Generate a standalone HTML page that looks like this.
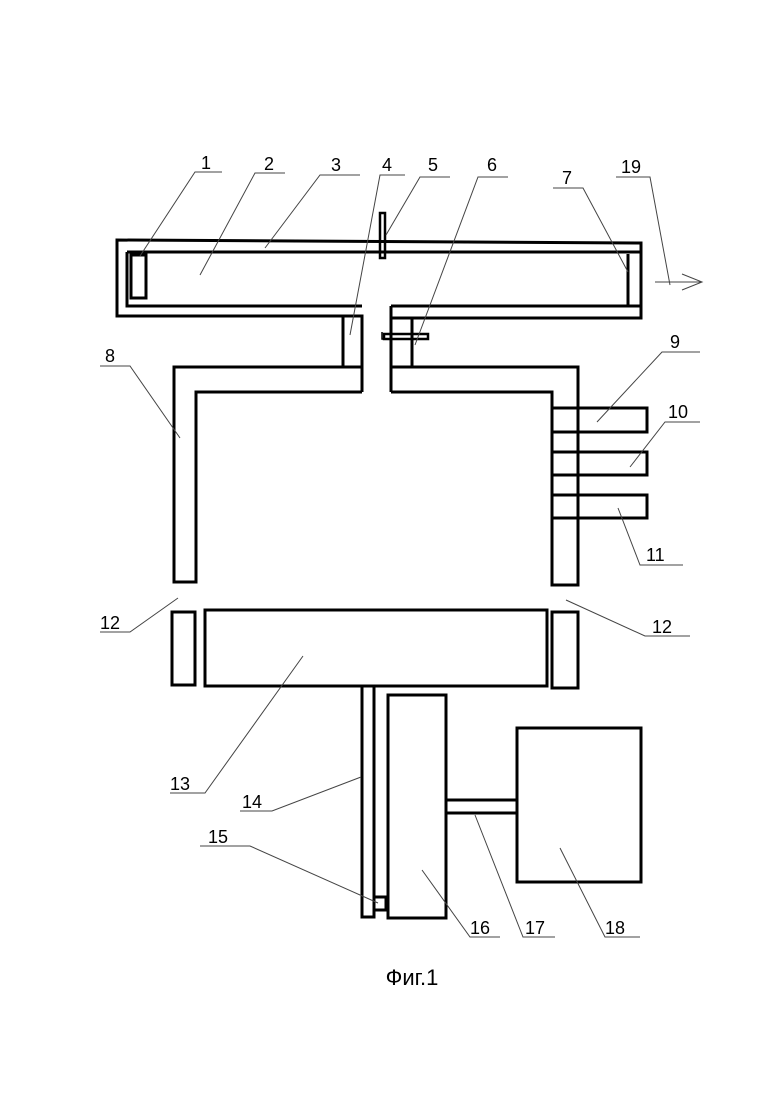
<!DOCTYPE html>
<html><head><meta charset="utf-8"><style>
html,body{margin:0;padding:0;background:#fff;}
svg{display:block;}
text{font-family:"Liberation Sans",sans-serif;font-size:18px;fill:#000;}
</style></head><body>
<svg width="780" height="1103" viewBox="0 0 780 1103" xmlns="http://www.w3.org/2000/svg">
<g fill="none" stroke="#000" stroke-width="3">
<!-- upper chamber -->
<polyline points="362,392 362,316 117,316 117,240 641,243 641,318 391,318"/>
<line x1="127" y1="252" x2="641" y2="252"/>
<polyline points="362,306 127,306 127,252"/>
<line x1="391" y1="306" x2="641" y2="306"/>
<line x1="391" y1="306" x2="391" y2="392"/>
<rect x="131" y="255" width="15" height="43"/>
<line x1="628" y1="254" x2="628" y2="306"/>
<rect x="380" y="213" width="5" height="45" stroke-width="2.5"/>
<!-- pipe 4 -->
<line x1="343" y1="316" x2="343" y2="367"/>
<!-- left L -->
<polyline points="362,367 174,367 174,582 196,582 196,392 362,392"/>
<!-- pipe 6 -->
<line x1="412" y1="318" x2="412" y2="367"/>
<rect x="384" y="334" width="44" height="5" stroke-width="2.5"/>
<polyline points="382,332 382,339 385,339" stroke-width="1.5"/>
<!-- right L -->
<polyline points="391,367 578,367 578,585 552,585 552,392 391,392"/>
<rect x="552" y="408" width="95" height="24"/>
<rect x="552" y="452" width="95" height="23"/>
<rect x="552" y="495" width="95" height="23"/>
<!-- lower -->
<rect x="172" y="612" width="23" height="73"/>
<rect x="205" y="610" width="342" height="76"/>
<rect x="552" y="612" width="26" height="76"/>
<rect x="362" y="686" width="12" height="231"/>
<rect x="388" y="695" width="58" height="223"/>
<rect x="374" y="897" width="12" height="13"/>
<rect x="446" y="800" width="71" height="13"/>
<rect x="517" y="728" width="124" height="154"/>
</g>
<!-- leaders -->
<g fill="none" stroke="#444" stroke-width="1">
<polyline points="140,256 195,172 222,172"/>
<polyline points="200,275 255,173 285,173"/>
<polyline points="265,248 320,175 360,175"/>
<polyline points="350,335 380,175 405,175"/>
<polyline points="386,235 420,177 450,177"/>
<polyline points="415,345 478,177 508,177"/>
<polyline points="628,272 583,188 553,188"/>
<polyline points="616,177 650,177 670,285"/>
<line x1="655" y1="282" x2="702" y2="282"/>
<polyline points="682,274 702,282 682,290"/>
<polyline points="100,366 130,366 180,438"/>
<polyline points="700,352 662,352 597,422"/>
<polyline points="700,422 665,422 630,467"/>
<polyline points="683,565 640,565 618,508"/>
<polyline points="100,632 130,632 178,598"/>
<polyline points="690,636 645,636 566,600"/>
<polyline points="170,793 205,793 303,656"/>
<polyline points="240,811 272,811 361,777"/>
<polyline points="200,846 250,846 378,903"/>
<polyline points="500,937 470,937 422,870"/>
<polyline points="555,937 523,937 475,815"/>
<polyline points="640,937 605,937 560,848"/>
</g>
<text x="201" y="169">1</text>
<text x="264" y="170">2</text>
<text x="331" y="171">3</text>
<text x="382" y="171">4</text>
<text x="428" y="171">5</text>
<text x="487" y="171">6</text>
<text x="562" y="184">7</text>
<text x="621" y="173">19</text>
<text x="105" y="362">8</text>
<text x="670" y="348">9</text>
<text x="668" y="418">10</text>
<text x="646" y="561">11</text>
<text x="100" y="629">12</text>
<text x="652" y="633">12</text>
<text x="170" y="790">13</text>
<text x="242" y="808">14</text>
<text x="208" y="843">15</text>
<text x="470" y="934">16</text>
<text x="525" y="934">17</text>
<text x="605" y="934">18</text>
<text x="412" y="985" text-anchor="middle" style="font-size:22px">Фиг.1</text>
</svg>
</body></html>
